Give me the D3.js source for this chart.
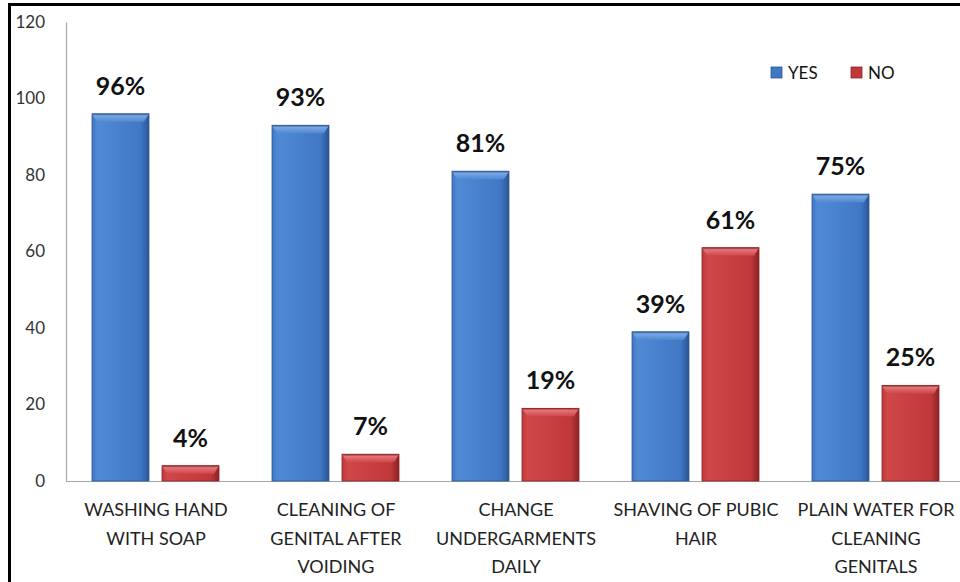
<!DOCTYPE html>
<html>
<head>
<meta charset="utf-8">
<script src="https://cdn.jsdelivr.net/npm/d3@7/dist/d3.min.js"></script>
<style>
  html, body { margin: 0; padding: 0; background: #fff; }
  svg { display: block; }
</style>
</head>
<body>
<svg id="chart" width="960" height="582"></svg>
<script>
// Hygiene practices: share answering YES / NO for each practice
const categories = [
  ["WASHING HAND", "WITH SOAP"],
  ["CLEANING OF", "GENITAL AFTER", "VOIDING"],
  ["CHANGE", "UNDERGARMENTS", "DAILY"],
  ["SHAVING OF PUBIC", "HAIR"],
  ["PLAIN WATER FOR", "CLEANING", "GENITALS"]
];
const seriesNames = ["YES", "NO"];
const yesValues = [96, 93, 81, 39, 75];
const noValues = [4, 7, 19, 61, 25];
const yTicks = [0, 20, 40, 60, 80, 100, 120];

const svg = d3.select("#chart");
const font = "Lato, 'Open Sans', 'DejaVu Sans', sans-serif";

const plot = { left: 66, right: 966, top: 22, bottom: 481 };

const x = d3.scaleBand()
  .domain(d3.range(categories.length))
  .range([plot.left, plot.right])
  .paddingInner(0).paddingOuter(0);

const xs = d3.scaleBand()
  .domain(seriesNames)
  .range([26, 153])
  .paddingInner(0.186);

const y = d3.scaleLinear().domain([0, 120]).range([plot.bottom, plot.top]);

// Outer frame (top and left edges)
svg.append("line").attr("x1", 9.5).attr("x2", 960).attr("y1", 4.5).attr("y2", 4.5)
  .attr("stroke", "#000").attr("stroke-width", 3);
svg.append("line").attr("x1", 9.5).attr("x2", 9.5).attr("y1", 3).attr("y2", 582)
  .attr("stroke", "#000").attr("stroke-width", 3);

// Gradients for bevelled bars
const defs = svg.append("defs");
const colors = {
  YES: { edge: "#2a5594", mid: "#4078c6", light: "#5089d4", top: "#7aa6e2" },
  NO: { edge: "#8a2224", mid: "#c1383a", light: "#d04749", top: "#e27678" }
};
seriesNames.forEach(s => {
  const c = colors[s];
  const g = defs.append("linearGradient").attr("id", "grad-" + s)
    .attr("x1", "0").attr("x2", "1").attr("y1", "0").attr("y2", "0");
  g.append("stop").attr("offset", "0%").attr("stop-color", c.mid);
  g.append("stop").attr("offset", "10%").attr("stop-color", c.light);
  g.append("stop").attr("offset", "85%").attr("stop-color", c.mid);
  g.append("stop").attr("offset", "100%").attr("stop-color", c.edge);
  const t = defs.append("linearGradient").attr("id", "top-" + s)
    .attr("x1", "0").attr("x2", "0").attr("y1", "0").attr("y2", "1");
  t.append("stop").attr("offset", "0%").attr("stop-color", c.edge);
  t.append("stop").attr("offset", "25%").attr("stop-color", c.top);
  t.append("stop").attr("offset", "100%").attr("stop-color", c.light);
});

// Axes
const yAxis = d3.axisLeft(y).tickValues(yTicks).tickSize(0).tickPadding(21);
const gy = svg.append("g").attr("transform", `translate(${plot.left},0)`).call(yAxis);
gy.select(".domain").attr("stroke", "#a6a6a6").attr("stroke-width", 1.2);
gy.selectAll("text").attr("font-family", font).attr("font-size", 17).attr("fill", "#333");

const xAxis = d3.axisBottom(x).tickSize(0).tickFormat("");
const gx = svg.append("g").attr("transform", `translate(0,${plot.bottom})`).call(xAxis);
gx.select(".domain").attr("stroke", "#a6a6a6").attr("stroke-width", 1.2);

// Category labels (multi-line)
const catLabels = svg.append("g").selectAll("text").data(categories).join("text")
  .attr("x", (d, i) => x(i) + 90)
  .attr("y", 516)
  .attr("text-anchor", "middle")
  .attr("font-family", font).attr("font-size", 18).attr("fill", "#222");
catLabels.each(function(lines) {
  d3.select(this).selectAll("tspan").data(lines).join("tspan")
    .attr("x", d3.select(this).attr("x"))
    .attr("dy", (d, j) => j === 0 ? 0 : 28.5)
    .text(d => d);
});

// Bars
const rows = categories.map((c, i) => ({ i, YES: yesValues[i], NO: noValues[i] }));
const groups = svg.append("g").selectAll("g").data(rows).join("g")
  .attr("transform", d => `translate(${x(d.i)},0)`);

groups.each(function(d) {
  const g = d3.select(this);
  seriesNames.forEach(s => {
    const bx = xs(s), bw = xs.bandwidth();
    const by = y(d[s]), bh = y(0) - y(d[s]);
    g.append("rect").attr("x", bx).attr("y", by).attr("width", bw).attr("height", bh)
      .attr("fill", `url(#grad-${s})`).attr("stroke", colors[s].edge).attr("stroke-width", 0.8);
    // bevelled top
    const bev = Math.min(8, bh);
    g.append("path")
      .attr("d", `M${bx},${by} L${bx + bw},${by} L${bx + bw - 5},${by + bev} L${bx + 5},${by + bev} Z`)
      .attr("fill", `url(#top-${s})`);
    g.append("text")
      .attr("x", bx + bw / 2).attr("y", by - 19)
      .attr("text-anchor", "middle")
      .attr("font-family", font).attr("font-weight", "bold").attr("font-size", 25)
      .attr("fill", "#111")
      .text(d[s] + "%");
  });
});

// Legend
const legend = svg.append("g").attr("transform", "translate(771,66)");
seriesNames.forEach((s, k) => {
  const lg = legend.append("g").attr("transform", `translate(${k * 80},0)`);
  lg.append("rect").attr("width", 11).attr("height", 11).attr("y", 1)
    .attr("fill", colors[s].mid).attr("stroke", colors[s].edge).attr("stroke-width", 0.8);
  lg.append("text").attr("x", 17).attr("y", 13)
    .attr("font-family", font).attr("font-size", 17).attr("fill", "#111").text(s);
});
</script>
</body>
</html>
